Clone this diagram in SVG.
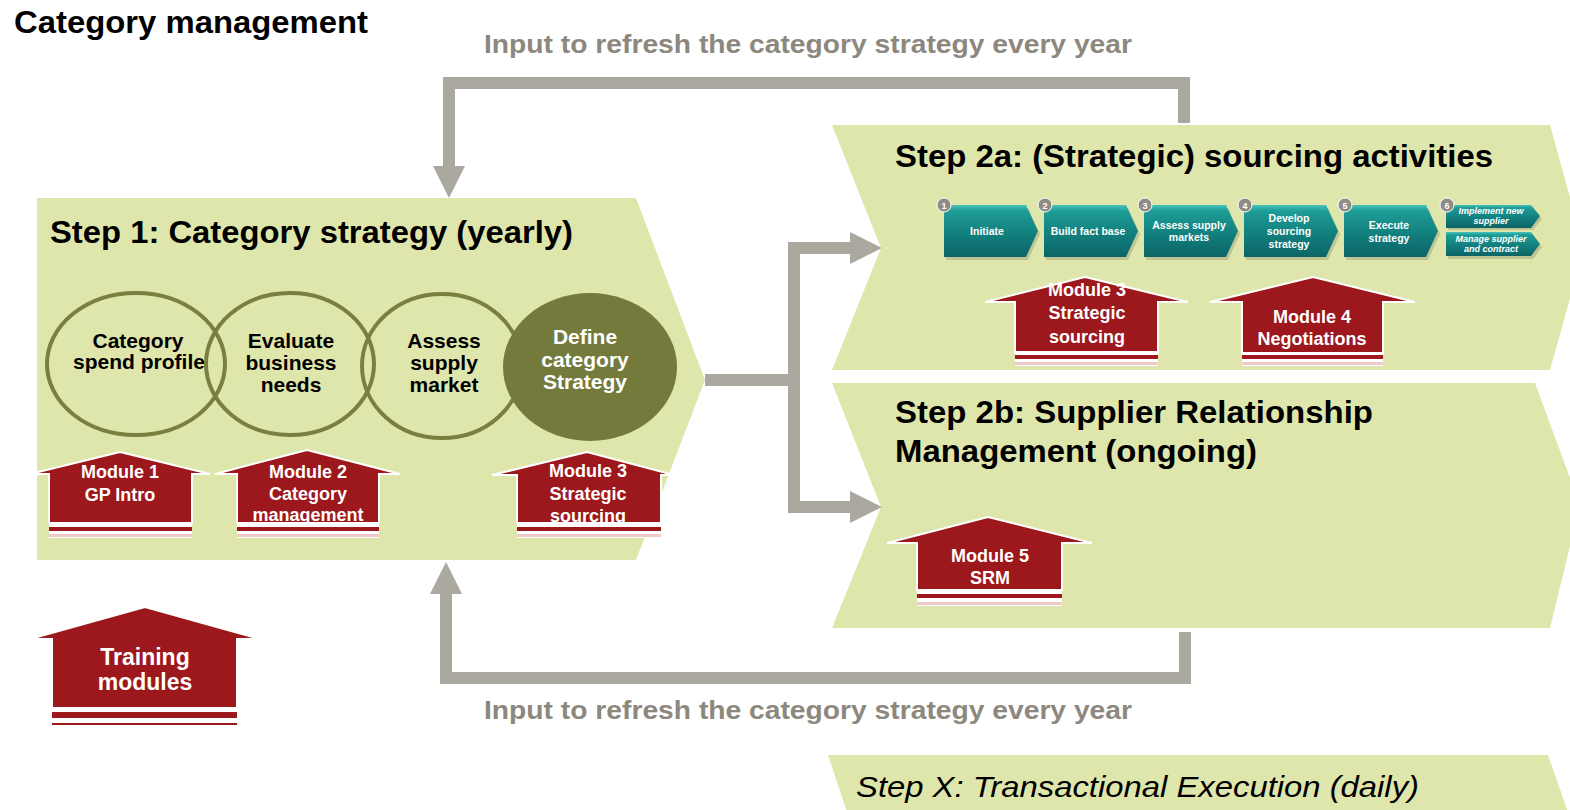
<svg xmlns="http://www.w3.org/2000/svg" width="1570" height="810" viewBox="0 0 1570 810">
<defs>
<linearGradient id="teal" x1="0" y1="0" x2="0" y2="1">
<stop offset="0" stop-color="#47c2bb"/>
<stop offset="0.12" stop-color="#1e9c97"/>
<stop offset="0.55" stop-color="#12807e"/>
<stop offset="1" stop-color="#0b6466"/>
</linearGradient>
<style>
.step{fill:#dfe6ab}
.conn{fill:none;stroke:#aba89f;stroke-width:12;stroke-linejoin:miter}
.head{fill:#aba89f}
.ring{fill:none;stroke:#787f3f;stroke-width:4}
.house{fill:#9c181c;stroke:#ffffff;stroke-width:2}
.band{fill:#ffffff}
.red{fill:#9c181c}
.pink{fill:#f1c9c9}
.t{font-family:"Liberation Sans",Arial,sans-serif;font-weight:bold}
.title{font-size:32px;fill:#000}
.ct{font-size:21px;fill:#000;text-anchor:middle}
.mt{font-size:18px;fill:#fff;text-anchor:middle}
.gl{font-size:26px;fill:#8d887e}
.chev{fill:url(#teal)}
.cht{font-size:10.5px;fill:#fff;text-anchor:middle}
.chi{font-size:9px;fill:#fff;text-anchor:middle;font-style:italic}
.badge{fill:#8f8b85;stroke:#fff;stroke-width:1}
.bn{font-size:9px;fill:#fff;text-anchor:middle}
.shadow{fill:#a9ae82;opacity:0.6}
</style>
</defs>
<rect x="0" y="0" width="1570" height="810" fill="#ffffff"/>

<text class="t" x="14" y="33" font-size="32" fill="#000" textLength="354" lengthAdjust="spacingAndGlyphs">Category management</text>

<g id="step1">
<polygon class="step" points="37,198 636,198 705,380 636,560 37,560"/>
<text class="t title" x="50" y="243" textLength="523" lengthAdjust="spacingAndGlyphs">Step 1: Category strategy (yearly)</text>
</g>

<g id="step2a">
<polygon class="step" points="832,125 1550,125 1584,248 1550,370 832,370 881,248"/>
<text class="t title" x="895" y="167" textLength="598" lengthAdjust="spacingAndGlyphs">Step 2a: (Strategic) sourcing activities</text>
</g>

<g id="step2b">
<polygon class="step" points="832,383 1535,383 1580,505 1550,628 832,628 881,507"/>
<text class="t title" x="895" y="423" textLength="478" lengthAdjust="spacingAndGlyphs">Step 2b: Supplier Relationship</text>
<text class="t title" x="895" y="462" textLength="362" lengthAdjust="spacingAndGlyphs">Management (ongoing)</text>
</g>

<g id="stepX">
<polygon class="step" points="828,755 1548,755 1570,818 849,818"/>
<text x="856" y="797" font-family="Liberation Sans, Arial, sans-serif" font-style="italic" font-size="30" fill="#000" textLength="563" lengthAdjust="spacingAndGlyphs">Step X: Transactional Execution (daily)</text>
</g>

<g id="connectors">
<path class="conn" d="M1184,123 V83 H449 V170"/>
<polygon class="head" points="433,166 465,166 449,198"/>
<path class="conn" d="M1185,632 V678 H446 V590"/>
<polygon class="head" points="430,594 462,594 446,562"/>
<path class="conn" d="M705,380 H794"/>
<path class="conn" d="M794,248 V507"/>
<path class="conn" d="M788,248 H854"/>
<path class="conn" d="M788,507 H854"/>
<polygon class="head" points="850,232 850,264 882,248"/>
<polygon class="head" points="850,491 850,523 882,507"/>
</g>

<g id="label-top">
<text class="t gl" x="484" y="53" textLength="648" lengthAdjust="spacingAndGlyphs">Input to refresh the category strategy every year</text>
</g>
<g id="label-bottom">
<text class="t gl" x="484" y="719" textLength="648" lengthAdjust="spacingAndGlyphs">Input to refresh the category strategy every year</text>
</g>

<g id="circle-spend">
<ellipse class="ring" cx="136" cy="364" rx="89" ry="71"/>
<text class="t ct" x="138" y="348">Category</text>
<text class="t ct" x="139" y="369">spend profile</text>
</g>
<g id="circle-evaluate">
<ellipse class="ring" cx="290" cy="364" rx="84" ry="71"/>
<text class="t ct" x="291" y="348">Evaluate</text>
<text class="t ct" x="291" y="370">business</text>
<text class="t ct" x="291" y="392">needs</text>
</g>
<g id="circle-assess">
<ellipse class="ring" cx="442" cy="366" rx="80" ry="72"/>
<text class="t ct" x="444" y="348">Assess</text>
<text class="t ct" x="444" y="370">supply</text>
<text class="t ct" x="444" y="392">market</text>
</g>
<g id="circle-define">
<ellipse cx="590" cy="367" rx="87" ry="74" fill="#737a3c"/>
<text class="t ct" x="585" y="344" style="fill:#fff">Define</text>
<text class="t ct" x="585" y="367" style="fill:#fff">category</text>
<text class="t ct" x="585" y="389" style="fill:#fff">Strategy</text>
</g>

<g id="module1">
<polygon class="house" points="120,452 210,474 192,474 192,523 49,523 49,474 30,474"/>
<rect class="band" x="49" y="523" width="143" height="15"/>
<rect class="red" x="49" y="527" width="143" height="4"/>
<rect class="pink" x="49" y="534" width="143" height="3"/>
<text class="t mt" x="120" y="478">Module 1</text>
<text class="t mt" x="120" y="501">GP Intro</text>
</g>

<g id="module2">
<polygon class="house" points="307,450 400,474 379,474 379,523 237,523 237,474 215,474"/>
<text class="t mt" x="308" y="478">Module 2</text>
<text class="t mt" x="308" y="500">Category</text>
<text class="t mt" x="308" y="521">management</text>
<rect class="band" x="237" y="523" width="142" height="15"/>
<rect class="red" x="237" y="527" width="142" height="4"/>
<rect class="pink" x="237" y="534" width="142" height="3"/>
</g>

<g id="module3a">
<polygon class="house" points="587,452 674,475 661,475 661,523 517,523 517,475 492,475"/>
<text class="t mt" x="588" y="477">Module 3</text>
<text class="t mt" x="588" y="500">Strategic</text>
<text class="t mt" x="588" y="522">sourcing</text>
<rect class="band" x="517" y="523" width="144" height="15"/>
<rect class="red" x="517" y="527" width="144" height="4"/>
<rect class="pink" x="517" y="534" width="144" height="3"/>
</g>

<g id="module3b">
<polygon class="house" points="1085,277 1188,302 1158,302 1158,353 1015,353 1015,302 985,302"/>
<text class="t mt" x="1087" y="296">Module 3</text>
<text class="t mt" x="1087" y="319">Strategic</text>
<text class="t mt" x="1087" y="343">sourcing</text>
<rect class="band" x="1015" y="351" width="143" height="15"/>
<rect class="red" x="1015" y="355" width="143" height="4"/>
<rect class="pink" x="1015" y="362" width="143" height="3"/>
</g>

<g id="module4">
<polygon class="house" points="1313,277 1415,302 1383,302 1383,353 1242,353 1242,302 1210,302"/>
<text class="t mt" x="1312" y="323">Module 4</text>
<text class="t mt" x="1312" y="345">Negotiations</text>
<rect class="band" x="1242" y="353" width="141" height="13"/>
<rect class="red" x="1242" y="355" width="141" height="4"/>
<rect class="pink" x="1242" y="362" width="141" height="3"/>
</g>

<g id="module5">
<polygon class="house" points="988,517 1092,543 1062,543 1062,590 917,590 917,543 887,543"/>
<text class="t mt" x="990" y="562">Module 5</text>
<text class="t mt" x="990" y="584">SRM</text>
<rect class="band" x="917" y="590" width="145" height="16"/>
<rect class="red" x="917" y="594" width="145" height="4"/>
<rect class="pink" x="917" y="602" width="145" height="3"/>
</g>

<g id="training">
<polygon class="house" points="145,607 260,639 237,639 237,708 52,708 52,639 30,639"/>
<text class="t" x="145" y="665" font-size="23" fill="#fff" text-anchor="middle">Training</text>
<text class="t" x="145" y="690" font-size="23" fill="#fff" text-anchor="middle">modules</text>
<rect class="band" x="52" y="708" width="185" height="20"/>
<rect class="red" x="52" y="712" width="185" height="6"/>
<rect class="red" x="52" y="723" width="185" height="2"/>
</g>

<g id="proc1">
<polygon class="shadow" points="946,208 1028,208 1040,234 1028,260 946,260"/>
<polygon class="chev" points="944,205 1026,205 1038,231 1026,257 944,257"/>
<circle class="badge" cx="944" cy="205" r="7"/>
<text class="t bn" x="944" y="208.5">1</text>
<text class="t cht" x="987" y="235">Initiate</text>
</g>
<g id="proc2">
<polygon class="shadow" points="1046,208 1128,208 1140,234 1128,260 1046,260"/>
<polygon class="chev" points="1044,205 1126,205 1138,231 1126,257 1044,257"/>
<circle class="badge" cx="1045" cy="205" r="7"/>
<text class="t bn" x="1045" y="208.5">2</text>
<text class="t cht" x="1088" y="235">Build fact base</text>
</g>
<g id="proc3">
<polygon class="shadow" points="1146,208 1228,208 1240,234 1228,260 1146,260"/>
<polygon class="chev" points="1144,205 1226,205 1238,231 1226,257 1144,257"/>
<circle class="badge" cx="1145" cy="205" r="7"/>
<text class="t bn" x="1145" y="208.5">3</text>
<text class="t cht" x="1189" y="229">Assess supply</text>
<text class="t cht" x="1189" y="241">markets</text>
</g>
<g id="proc4">
<polygon class="shadow" points="1246,208 1328,208 1340,234 1328,260 1246,260"/>
<polygon class="chev" points="1244,205 1326,205 1338,231 1326,257 1244,257"/>
<circle class="badge" cx="1245" cy="205" r="7"/>
<text class="t bn" x="1245" y="208.5">4</text>
<text class="t cht" x="1289" y="222">Develop</text>
<text class="t cht" x="1289" y="235">sourcing</text>
<text class="t cht" x="1289" y="248">strategy</text>
</g>
<g id="proc5">
<polygon class="shadow" points="1346,208 1428,208 1440,234 1428,260 1346,260"/>
<polygon class="chev" points="1344,205 1426,205 1438,231 1426,257 1344,257"/>
<circle class="badge" cx="1345" cy="205" r="7"/>
<text class="t bn" x="1345" y="208.5">5</text>
<text class="t cht" x="1389" y="229">Execute</text>
<text class="t cht" x="1389" y="242">strategy</text>
</g>
<g id="proc6">
<polygon class="shadow" points="1448,208 1533,208 1542,219 1533,230 1448,230"/>
<polygon class="chev" points="1446,205 1531,205 1540,216 1531,228 1446,228"/>
<polygon class="shadow" points="1448,235 1533,235 1542,247 1533,259 1448,259"/>
<polygon class="chev" points="1446,232 1531,232 1540,244 1531,256 1446,256"/>
<circle class="badge" cx="1447" cy="205" r="7"/>
<text class="t bn" x="1447" y="208.5">6</text>
<text class="t chi" x="1491" y="214">Implement new</text>
<text class="t chi" x="1491" y="224">supplier</text>
<text class="t chi" x="1491" y="242">Manage supplier</text>
<text class="t chi" x="1491" y="252">and contract</text>
</g>
</svg>
